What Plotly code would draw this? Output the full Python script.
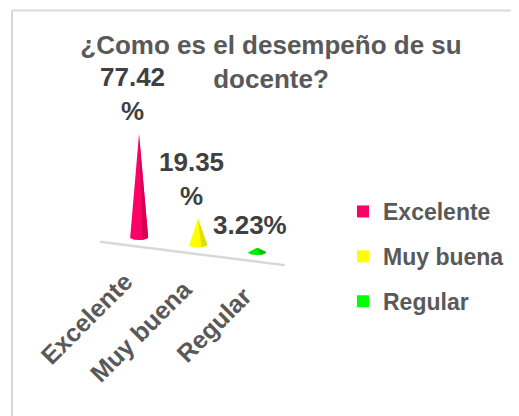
import math
import plotly.graph_objects as go

# ---- data ----
categories = ["Excelente", "Muy buena", "Regular"]
values = [77.42, 19.35, 3.23]          # percent
label_wrapped = [True, True, False]    # Excel wrapped the first two labels
colors = ["#FF0066", "#FFFF00", "#00EE00"]
shade_colors = ["#D60055", "#E0E000", "#00C400"]
legend_colors = ["#FF0066", "#FFFF00", "#00FF00"]
title_text = "¿Como es el desempeño de su<br>docente?"

# ---- geometry / style (pseudo-3D perspective) ----
PAGE = 8                     # default body margin of the html page
W, H = 519 - PAGE, 416 - PAGE
PX_X = 59.0                  # px per category step
PX_Y = 1.33                  # px per percentage point
X0_PX, Y0_PX = 139 - PAGE, 237 - PAGE
FLOOR_SLOPE = -5.64          # data units the floor drops per category
HW = 0.155                   # cone base half width (x units)
EH = 2.3                     # cone base ellipse half height (y units)
FONT = "Arial, Liberation Sans, sans-serif"


def floor(i):
    return FLOOR_SLOPE * i


fig = go.Figure()

for i, (cat, v) in enumerate(zip(categories, values)):
    base = floor(i)
    xs, ys = [i, i - HW], [base + v, base]
    n = 24
    for k in range(n + 1):
        t = math.pi + math.pi * k / n
        xs.append(i + HW * math.cos(t)); ys.append(base + EH * math.sin(t))
    xs.append(i); ys.append(base + v)
    fig.add_trace(go.Scatter(x=xs, y=ys, fill="toself", mode="lines",
                             line=dict(width=0, color=colors[i]),
                             fillcolor=colors[i], showlegend=False,
                             hoverinfo="skip"))
    # darker right side for a bit of 3D shading
    sx, sy = [i], [base + v]
    for k in range(0, 9):
        t = 2 * math.pi - (math.pi * 0.38) * (1 - k / 8)
        sx.append(i + HW * math.cos(t)); sy.append(base + EH * math.sin(t))
    sx.append(i + HW); sy.append(base)
    sx.append(i); sy.append(base + v)
    fig.add_trace(go.Scatter(x=sx, y=sy, fill="toself", mode="lines",
                             line=dict(width=0, color=shade_colors[i]),
                             fillcolor=shade_colors[i], showlegend=False,
                             hoverinfo="skip"))
    # legend entry
    fig.add_trace(go.Scatter(x=[None], y=[None], mode="markers", name=cat,
                             legendgroup=cat,
                             marker=dict(symbol="square", size=12,
                                         color=legend_colors[i])))
    # data label
    txt = f"{v:.2f}<br>%" if label_wrapped[i] else f"{v:.2f}%"
    fig.add_annotation(x=i, y=base + v, xref="x", yref="y", text=f"<b>{txt}</b>",
                       showarrow=False, xanchor="center", yanchor="bottom",
                       xshift=-7, yshift=6,
                       font=dict(family=FONT, size=26, color="#404040"))
    # category label (rotated)
    fig.add_annotation(x=i, y=base, xref="x", yref="y", text=f"<b>{cat}</b>",
                       showarrow=False, textangle=-45, xanchor="right",
                       yanchor="top", xshift=2, yshift=-27,
                       font=dict(family=FONT, size=25, color="#595959"))

# floor edge line
fx0, fx1 = -0.66, 2.47
fig.add_shape(type="line", xref="x", yref="y",
              x0=fx0, y0=floor(fx0) - 7.3, x1=fx1, y1=floor(fx1) - 7.3,
              line=dict(color="#D9D9D9", width=2.5))

# chart border (left + top visible)
bx, by = (12 - PAGE) / W, 1 - (10.5 - PAGE) / H
fig.add_shape(type="line", xref="paper", yref="paper",
              x0=bx, y0=by, x1=1.02, y1=by,
              line=dict(color="#D9D9D9", width=2))
fig.add_shape(type="line", xref="paper", yref="paper",
              x0=bx, y0=by, x1=bx, y1=-0.02,
              line=dict(color="#D9D9D9", width=2))

fig.update_layout(
    width=W, height=H,
    margin=dict(l=0, r=0, t=0, b=0),
    paper_bgcolor="white", plot_bgcolor="white",
    title=dict(text=f"<b>{title_text}</b>", x=(271 - PAGE) / W, xanchor="center",
               y=1 - (54 - PAGE) / H, yanchor="top", yref="container",
               font=dict(family=FONT, size=26, color="#595959")),
    xaxis=dict(visible=False, range=[-X0_PX / PX_X, (W - X0_PX) / PX_X],
               fixedrange=True),
    yaxis=dict(visible=False, range=[-(H - Y0_PX) / PX_Y, Y0_PX / PX_Y],
               fixedrange=True),
    legend=dict(x=(343 - PAGE) / W, y=1 - (190 - PAGE) / H, xanchor="left",
                yanchor="top",
                font=dict(family=FONT, size=23, color="#595959", weight="bold"),
                tracegroupgap=12, bgcolor="rgba(0,0,0,0)"),
    showlegend=True,
)

fig.write_html("out.html")
